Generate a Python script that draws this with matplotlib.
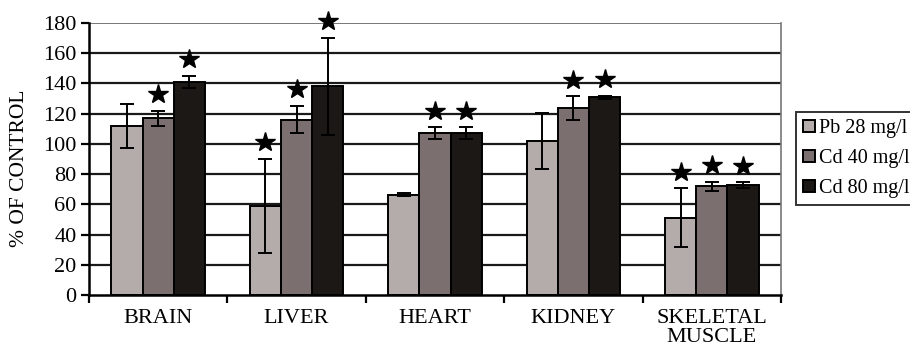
import numpy as np
import matplotlib
matplotlib.use("Agg")
import matplotlib.pyplot as plt

# Organ categories and treatment groups
organs = ["BRAIN", "LIVER", "HEART", "KIDNEY", "SKELETAL\nMUSCLE"]
groups = ["Pb 28 mg/l", "Cd 40 mg/l", "Cd 80 mg/l"]

# Mean values (% of control)
pb28 = [112, 59, 66.5, 102, 51]
cd40 = [117, 116, 107, 123.5, 72]
cd80 = [141, 138, 107, 131, 72.5]

# Standard deviations
pb28_err = [14.5, 31, 1, 18.5, 19.5]
cd40_err = [5, 9, 4, 8, 3]
cd80_err = [4, 32, 4, 1, 2]

# Significance flags (1 = significant vs control)
pb28_sig = [0, 1, 0, 0, 1]
cd40_sig = [1, 1, 1, 1, 1]
cd80_sig = [1, 1, 1, 1, 1]

colors = ["#b4acab", "#7b6f6f", "#1b1815"]

plt.rcParams["font.family"] = ["Liberation Serif", "DejaVu Serif"]

fig = plt.figure(figsize=(9.1, 3.5), dpi=100)
ax = fig.add_axes([89 / 910, 1 - 295 / 350, (781 - 89) / 910, (295 - 23) / 350])

x = np.arange(len(organs))
width = 0.225
series = [(pb28, pb28_err, pb28_sig), (cd40, cd40_err, cd40_sig), (cd80, cd80_err, cd80_sig)]

# Horizontal gridlines
for yv in range(20, 180, 20):
    ax.axhline(yv, color="#1a1a1a", lw=1.6, zorder=0)
ax.axhline(180, color="#777777", lw=1.4, zorder=0)

for i, (vals, errs, sig) in enumerate(series):
    pos = x + (i - 1) * width
    ax.bar(pos, vals, width, color=colors[i], edgecolor="black", linewidth=1.4,
           label=groups[i], zorder=2)
    ax.errorbar(pos, vals, yerr=errs, fmt="none", ecolor="black", elinewidth=1.4,
                capsize=5, capthick=1.4, zorder=3)
    for p, v, e, s in zip(pos, vals, errs, sig):
        if s:
            ax.plot(p, v + e + 11, marker="*", ms=15, color="black",
                    markeredgecolor="black", zorder=4, clip_on=False)

ax.set_xlim(-0.5, len(organs) - 0.5)
ax.set_ylim(0, 180)
ax.set_yticks(range(0, 181, 20))
ax.tick_params(axis="y", labelsize=16, direction="out", length=6, width=1.6, pad=3)

# Category boundary ticks below axis, labels centred under groups
ax.set_xticks(np.arange(-0.5, len(organs), 1.0))
ax.set_xticklabels([])
ax.set_xticks(x, minor=True)
ax.set_xticklabels(organs, minor=True, fontsize=16, linespacing=1.0)
ax.tick_params(axis="x", which="major", direction="out", length=6, width=1.6)
ax.tick_params(axis="x", which="minor", length=0, pad=10)

for side in ["left", "bottom"]:
    ax.spines[side].set_color("black")
    ax.spines[side].set_linewidth(1.8)
ax.spines["right"].set_color("#777777")
ax.spines["right"].set_linewidth(1.2)
ax.spines["top"].set_visible(False)

fig.text(20 / 910, 1 - 168 / 350, "% OF CONTROL", rotation=90, fontsize=15.5,
         ha="center", va="center")

leg = fig.legend(loc="upper left", bbox_to_anchor=(796 / 910, 1 - 112 / 350),
                 fontsize=14.5, frameon=True, fancybox=False, handlelength=0.6,
                 handleheight=0.6, handletextpad=0.2, borderpad=0.35,
                 labelspacing=0.55, borderaxespad=0)
leg.get_frame().set_edgecolor("black")
leg.get_frame().set_linewidth(1.4)

fig.savefig("out.png", dpi=100)
